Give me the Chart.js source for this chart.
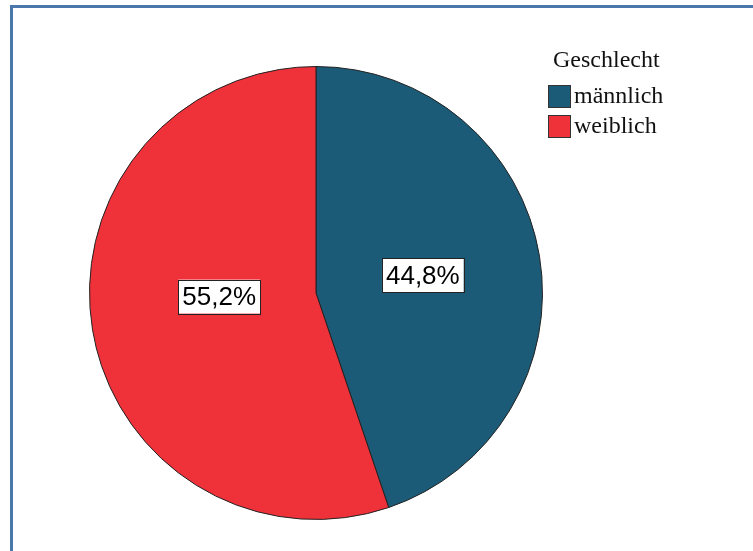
<!DOCTYPE html>
<html>
<head>
<meta charset="utf-8">
<script src="https://cdn.jsdelivr.net/npm/chart.js@4"></script>
<style>
  html, body { margin: 0; padding: 0; background: #fff; }
  #wrap { position: relative; width: 753px; height: 551px; overflow: hidden; }
  #frame { position: absolute; left: 10px; top: 5px; width: 800px; height: 600px;
           border-left: 3px solid #4a78ad; border-top: 3px solid #4a78ad; }
  canvas { position: absolute; left: 0; top: 0; }
</style>
</head>
<body>
<div id="wrap">
  <div id="frame"></div>
  <canvas id="pie" width="753" height="551"></canvas>
</div>
<script>
// Geschlecht distribution
const legendTitle = 'Geschlecht'
const categories = ['männlich', 'weiblich']
const shares = [44.8, 55.2]
const colors = ['#1c5b77', '#ef3139']

// SPSS puts the red label a bit off the slice bisector
const labelNudge = [[0, 0], [10, -14]]

const fmt = v => v.toFixed(1).replace('.', ',') + '%'

// white boxed percentage labels inside slices
const sliceLabels = {
  id: 'sliceLabels',
  afterDatasetsDraw(chart) {
    const ctx = chart.ctx
    const meta = chart.getDatasetMeta(0)
    ctx.save()
    ctx.font = '26px "Liberation Sans", Arial, sans-serif'
    ctx.textAlign = 'center'
    ctx.textBaseline = 'middle'
    meta.data.forEach((arc, i) => {
      const p = arc.getProps(['x', 'y', 'startAngle', 'endAngle', 'outerRadius'], true)
      const mid = (p.startAngle + p.endAngle) / 2
      const r = p.outerRadius * 0.478
      const x = p.x + Math.cos(mid) * r + labelNudge[i][0]
      const y = p.y + Math.sin(mid) * r + labelNudge[i][1]
      const txt = fmt(shares[i])
      const w = ctx.measureText(txt).width + 8
      const h = 34
      ctx.fillStyle = '#fff'
      ctx.fillRect(x - w / 2, y - h / 2, w, h)
      ctx.strokeStyle = '#222'
      ctx.lineWidth = 1
      ctx.strokeRect(Math.round(x - w / 2) + 0.5, Math.round(y - h / 2) + 0.5, Math.round(w), h)
      ctx.fillStyle = '#000'
      ctx.fillText(txt, x, y + 1)
    })
    ctx.restore()
  }
}

// legend top right, serif like the original
const sideLegend = {
  id: 'sideLegend',
  afterDraw(chart) {
    const ctx = chart.ctx
    ctx.save()
    ctx.font = '24px "Liberation Serif", "Times New Roman", serif'
    ctx.fillStyle = '#111'
    ctx.textBaseline = 'middle'
    ctx.textAlign = 'left'
    ctx.fillText(legendTitle, 553, 61)
    categories.forEach((c, i) => {
      const y = 85 + i * 30
      ctx.fillStyle = colors[i]
      ctx.fillRect(548, y, 23, 23)
      ctx.strokeStyle = '#333'
      ctx.lineWidth = 1
      ctx.strokeRect(548.5, y + 0.5, 22, 22)
      ctx.fillStyle = '#111'
      ctx.fillText(c, 574, y + 12)
    })
    ctx.restore()
  }
}

new Chart(document.getElementById('pie'), {
  type: 'pie',
  data: {
    labels: categories,
    datasets: [{
      data: shares,
      backgroundColor: colors,
      borderColor: '#222',
      borderWidth: 1
    }]
  },
  options: {
    responsive: false,
    animation: false,
    layout: { padding: { left: 89, right: 210, top: 66, bottom: 31 } },
    plugins: {
      legend: { display: false },
      tooltip: { enabled: false }
    }
  },
  plugins: [sliceLabels, sideLegend]
})
</script>
</body>
</html>
